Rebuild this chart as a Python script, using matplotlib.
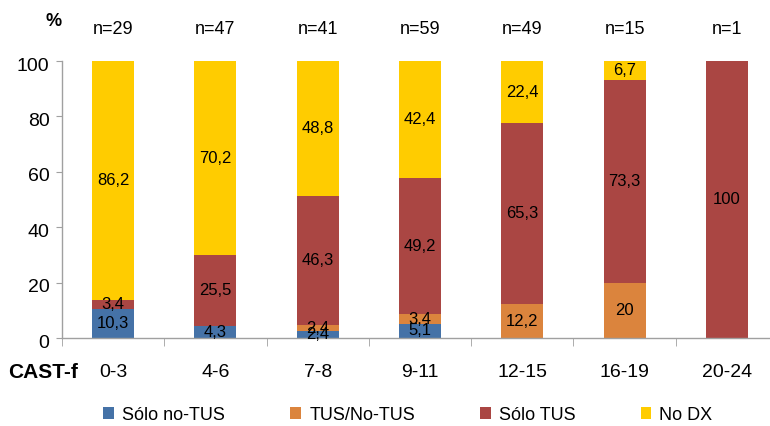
import matplotlib
matplotlib.use("Agg")
import matplotlib.pyplot as plt
from matplotlib.patches import Patch
from matplotlib.transforms import ScaledTranslation

plt.rcParams['font.family'] = ['Liberation Sans', 'DejaVu Sans']

categories = ["0-3", "4-6", "7-8", "9-11", "12-15", "16-19", "20-24"]
sample_sizes = [29, 47, 41, 59, 49, 15, 1]

series_names = ["Sólo no-TUS", "TUS/No-TUS", "Sólo TUS", "No DX"]
solo_no_tus = [10.3, 4.3, 2.4, 5.1, 0, 0, 0]
tus_no_tus = [0, 0, 2.4, 3.4, 12.2, 20, 0]
solo_tus = [3.4, 25.5, 46.3, 49.2, 65.3, 73.3, 100]
no_dx = [86.2, 70.2, 48.8, 42.4, 22.4, 6.7, 0]

colors = ["#4572A7", "#DB843D", "#AA4643", "#FFCC00"]
series = [solo_no_tus, tus_no_tus, solo_tus, no_dx]

fig = plt.figure(figsize=(7.70, 4.26), dpi=100)
ax = fig.add_axes([62 / 770, 88 / 426, 716 / 770, 277 / 426])

x = list(range(len(categories)))
bottoms = [0.0] * len(categories)
for vals, col in zip(series, colors):
    ax.bar(x, vals, width=0.41, bottom=bottoms, color=col, edgecolor='none', zorder=2)
    for xi, v, b in zip(x, vals, bottoms):
        if v > 0:
            txt = f"{v:g}".replace('.', ',')
            ax.text(xi, b + v / 2, txt, ha='center', va='center', fontsize=12,
                    color='black', zorder=3)
    bottoms = [b + v for b, v in zip(bottoms, vals)]

ax.set_xlim(-0.5, len(categories) - 0.5)
ax.set_ylim(0, 100)
ax.set_yticks([0, 20, 40, 60, 80, 100])
ax.tick_params(axis='y', labelsize=14, length=4, color='#A0A0A0', pad=5)
shift = ScaledTranslation(0, -3 / 100, fig.dpi_scale_trans)
for lab in ax.get_yticklabels():
    lab.set_transform(lab.get_transform() + shift)

ax.set_xticks(x)
ax.set_xticklabels(categories, fontsize=14)
ax.tick_params(axis='x', length=0, pad=19)
ax.set_xticks([i - 0.5 for i in range(len(categories) + 1)], minor=True)
ax.tick_params(axis='x', which='minor', length=6, color='#A0A0A0')

for side in ['top', 'right']:
    ax.spines[side].set_visible(False)
for side in ['left', 'bottom']:
    ax.spines[side].set_color('#A0A0A0')
    ax.spines[side].set_linewidth(1.0)

for xi, n in zip(x, sample_sizes):
    ax.text(xi, 111.5, f"n={n}", ha='center', va='center', fontsize=13, clip_on=False)

fig.text(54 / 770, 1 - 22 / 426, "%", ha='center', va='center', fontsize=13, fontweight='bold')
fig.text(43 / 770, 1 - 372 / 426, "CAST-f", ha='center', va='center', fontsize=15, fontweight='bold')

handles = [Patch(facecolor=c, edgecolor='none') for c in colors]
fig.legend(handles, series_names, loc='center', bbox_to_anchor=(408 / 770, 1 - 415 / 426),
           ncol=4, frameon=False, fontsize=13, handlelength=0.6, handleheight=0.6,
           handletextpad=0.45, columnspacing=3.6, borderpad=0, borderaxespad=0)

fig.savefig("out.png", dpi=100)
